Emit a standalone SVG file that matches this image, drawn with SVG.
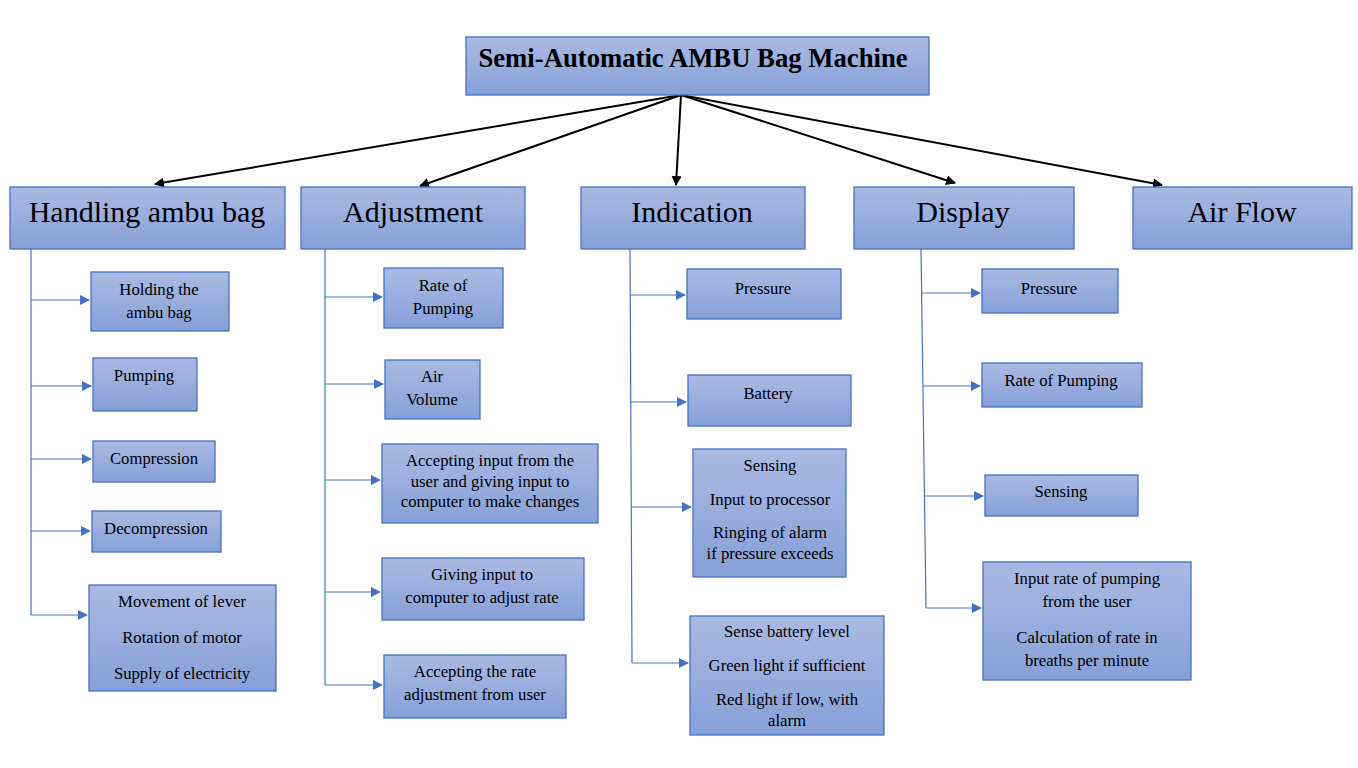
<svg xmlns="http://www.w3.org/2000/svg" width="1358" height="768" viewBox="0 0 1358 768">
<defs>
<linearGradient id="g" x1="0" y1="0" x2="0" y2="1">
<stop offset="0" stop-color="#aab9e3"/>
<stop offset="1" stop-color="#87a0d8"/>
</linearGradient>
<marker id="ab" viewBox="0 0 10 10" refX="9" refY="5" markerWidth="10" markerHeight="10" markerUnits="userSpaceOnUse" orient="auto">
<path d="M0,0 L10,5 L0,10 z" fill="#000"/>
</marker>
<marker id="ablue" viewBox="0 0 10 10" refX="9" refY="5" markerWidth="10" markerHeight="10" markerUnits="userSpaceOnUse" orient="auto">
<path d="M0,0 L10,5 L0,10 z" fill="#4472c4"/>
</marker>
</defs>
<style>
rect{fill:url(#g);stroke:#4472c4;stroke-width:1.3}
text{font-family:"Liberation Serif","Times New Roman",serif;fill:#000;text-anchor:middle}
.t{font-size:26.7px;font-weight:bold}
.h{font-size:30px}
.c{font-size:16.7px}
.main{stroke:#000;stroke-width:2;fill:none;marker-end:url(#ab)}
.tree{stroke:#4472c4;stroke-width:1.2;fill:none}
.br{stroke:#4472c4;stroke-width:1.2;fill:none;marker-end:url(#ablue)}
</style>
<rect x="0" y="0" width="1358" height="768" style="fill:#fff;stroke:none"/>
<g id="connectors">
<line class="main" x1="681" y1="95" x2="155" y2="184"/>
<line class="main" x1="681" y1="95" x2="420" y2="186"/>
<line class="main" x1="681" y1="95" x2="676" y2="185"/>
<line class="main" x1="681" y1="95" x2="955" y2="183"/>
<line class="main" x1="681" y1="95" x2="1162" y2="185"/>
<line class="tree" x1="31" y1="249" x2="31" y2="615"/>
<line class="br" x1="31" y1="300" x2="89" y2="300"/>
<line class="br" x1="31" y1="386" x2="91" y2="386"/>
<line class="br" x1="31" y1="459" x2="91" y2="459"/>
<line class="br" x1="31" y1="531" x2="90" y2="531"/>
<line class="br" x1="31" y1="615" x2="87" y2="615"/>
<line class="tree" x1="325" y1="249" x2="325" y2="685"/>
<line class="br" x1="325" y1="297" x2="382" y2="297"/>
<line class="br" x1="325" y1="384" x2="383" y2="384"/>
<line class="br" x1="325" y1="480" x2="380" y2="480"/>
<line class="br" x1="325" y1="592" x2="380" y2="592"/>
<line class="br" x1="325" y1="685" x2="382" y2="685"/>
<line class="tree" x1="630" y1="249" x2="632" y2="663"/>
<line class="br" x1="630" y1="295" x2="685" y2="295"/>
<line class="br" x1="631" y1="402" x2="686" y2="402"/>
<line class="br" x1="631" y1="507" x2="691" y2="507"/>
<line class="br" x1="632" y1="663" x2="688" y2="663"/>
<line class="tree" x1="921" y1="249" x2="926" y2="608"/>
<line class="br" x1="922" y1="293" x2="980" y2="293"/>
<line class="br" x1="923" y1="386" x2="980" y2="386"/>
<line class="br" x1="925" y1="496" x2="983" y2="496"/>
<line class="br" x1="926" y1="608" x2="981" y2="608"/>
</g>
<g id="title"><rect x="466" y="37" width="463" height="58"/><text class="t" x="693" y="67">Semi-Automatic AMBU Bag Machine</text></g>
<g id="handling"><rect x="10" y="187" width="275" height="62"/><text class="h" x="147" y="222">Handling ambu bag</text></g>
<g id="adjustment"><rect x="301" y="187" width="224" height="62"/><text class="h" x="413" y="222">Adjustment</text></g>
<g id="indication"><rect x="581" y="187" width="224" height="62"/><text class="h" x="692" y="222">Indication</text></g>
<g id="display"><rect x="854" y="187" width="220" height="62"/><text class="h" x="963" y="222">Display</text></g>
<g id="airflow"><rect x="1133" y="187" width="219" height="62"/><text class="h" x="1242" y="222">Air Flow</text></g>

<g id="h1"><rect x="91" y="272" width="138" height="59"/><text class="c" x="159" y="295">Holding the</text><text class="c" x="159" y="318">ambu bag</text></g>
<g id="h2"><rect x="93" y="358" width="104" height="53"/><text class="c" x="144" y="381">Pumping</text></g>
<g id="h3"><rect x="93" y="441" width="122" height="41"/><text class="c" x="154" y="464">Compression</text></g>
<g id="h4"><rect x="92" y="511" width="129" height="41"/><text class="c" x="156" y="534">Decompression</text></g>
<g id="h5"><rect x="89" y="585" width="187" height="106"/><text class="c" x="182" y="607">Movement of lever</text><text class="c" x="182" y="643">Rotation of motor</text><text class="c" x="182" y="679">Supply of electricity</text></g>

<g id="a1"><rect x="384" y="268" width="119" height="60"/><text class="c" x="443" y="291">Rate of</text><text class="c" x="443" y="314">Pumping</text></g>
<g id="a2"><rect x="385" y="360" width="95" height="59"/><text class="c" x="432" y="382">Air</text><text class="c" x="432" y="405">Volume</text></g>
<g id="a3"><rect x="382" y="444" width="216" height="79"/><text class="c" x="490" y="466">Accepting input from the</text><text class="c" x="490" y="487">user and giving input to</text><text class="c" x="490" y="507">computer to make changes</text></g>
<g id="a4"><rect x="382" y="558" width="202" height="62"/><text class="c" x="482" y="580">Giving input to</text><text class="c" x="482" y="603">computer to adjust rate</text></g>
<g id="a5"><rect x="384" y="655" width="182" height="63"/><text class="c" x="475" y="677">Accepting the rate</text><text class="c" x="475" y="700">adjustment from user</text></g>

<g id="i1"><rect x="687" y="269" width="154" height="50"/><text class="c" x="763" y="294">Pressure</text></g>
<g id="i2"><rect x="688" y="375" width="163" height="51"/><text class="c" x="768" y="399">Battery</text></g>
<g id="i3"><rect x="693" y="449" width="153" height="128"/><text class="c" x="770" y="471">Sensing</text><text class="c" x="770" y="505">Input to processor</text><text class="c" x="770" y="538">Ringing of alarm</text><text class="c" x="770" y="559">if pressure exceeds</text></g>
<g id="i4"><rect x="690" y="616" width="194" height="119"/><text class="c" x="787" y="637">Sense battery level</text><text class="c" x="787" y="671">Green light if sufficient</text><text class="c" x="787" y="705">Red light if low, with</text><text class="c" x="787" y="726">alarm</text></g>

<g id="d1"><rect x="982" y="269" width="136" height="44"/><text class="c" x="1049" y="294">Pressure</text></g>
<g id="d2"><rect x="982" y="363" width="160" height="44"/><text class="c" x="1061" y="386">Rate of Pumping</text></g>
<g id="d3"><rect x="985" y="475" width="153" height="41"/><text class="c" x="1061" y="497">Sensing</text></g>
<g id="d4"><rect x="983" y="562" width="208" height="118"/><text class="c" x="1087" y="584">Input rate of pumping</text><text class="c" x="1087" y="607">from the user</text><text class="c" x="1087" y="643">Calculation of rate in</text><text class="c" x="1087" y="666">breaths per minute</text></g>
</svg>
